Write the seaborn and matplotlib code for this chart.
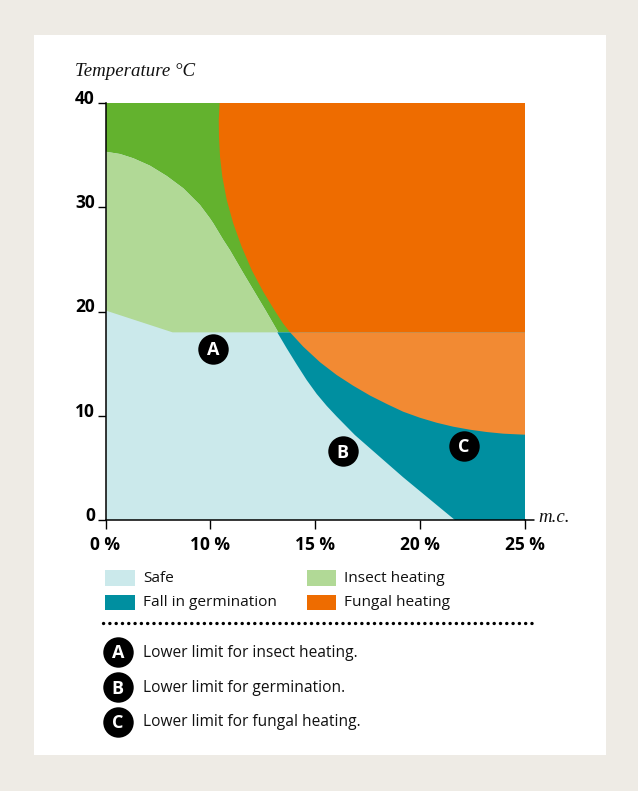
"""
Grain storage safety chart: temperature against moisture content.
"""
import matplotlib.pyplot as plt
from matplotlib.patches import Rectangle
from matplotlib.transforms import ScaledTranslation
import numpy as np
import pandas as pd
import seaborn as sns

# moisture content (%) and temperature (deg C) read along each limit
insect_mc = [0, 1.38, 2.65, 4.24, 5.84, 7.42, 9.01, 9.96, 10.14, 10.62, 10.93,
             11.57, 12.08, 12.65, 13.24, 14.2]
insect_t = [35.33, 35.11, 34.70, 33.99, 33.00, 31.82, 30.22, 28.94, 28.46,
            26.86, 25.90, 23.69, 21.97, 20.05, 18.0, 18.0]
insect_low_mc = [0, 6.4, 14.2]
insect_low_t = [20.1, 18.0, 18.0]
germ_mc = [13.19, 13.64, 14.11, 14.59, 15.07, 15.55, 16.02, 16.89, 17.61,
           19.19, 20.79, 21.66]
germ_t = [18.0, 16.47, 14.94, 13.43, 12.09, 10.94, 9.93, 8.15, 6.88,
          4.10, 1.44, 0.0]
fungal_mc = [10.44, 10.40, 10.41, 10.46, 10.57, 10.78, 11.09, 11.49, 11.97,
             12.52, 13.08, 13.46, 13.80, 14.43, 15.23, 16.02, 16.81, 17.61,
             18.41, 19.19, 19.99, 20.79, 21.58, 22.38, 23.17, 23.97, 25.0]
fungal_t = [40.0, 38.37, 36.77, 34.85, 32.93, 30.70, 28.46, 26.22, 23.98,
            21.90, 20.05, 18.87, 18.0, 16.62, 15.13, 13.91, 12.88, 11.94,
            11.13, 10.39, 9.81, 9.33, 8.95, 8.66, 8.44, 8.28, 8.18]
split_t = 18.0

badge_names = ["A", "B", "C"]
badge_mc = [10.14, 16.3, 22.1]
badge_t = [16.4, 6.6, 7.1]

x_ticks = [0, 10, 15, 20, 25]
x_tick_labels = ["0 %", "10 %", "15 %", "20 %", "25 %"]
y_ticks = [0, 10, 20, 30, 40]

legend_names = ["Safe", "Fall in germination", "Insect heating", "Fungal heating"]
limit_notes = ["Lower limit for insect heating.",
               "Lower limit for germination.",
               "Lower limit for fungal heating."]

SAFE = "#cbe9eb"
TEAL = "#008fa0"
PALE_GREEN = "#b1d996"
GREEN = "#63b22e"
ORANGE = "#ee6c00"
PALE_ORANGE = "#f28a33"
BACK = "#eeebe5"
BODY_FONT = "Open Sans"
BADGE_SIZE = 480


def forward(x):
    # the axis runs 0-10 over the same length as each later 5 % step
    return np.interp(x, x_ticks, [0, 1, 2, 3, 4])


def inverse(x):
    return np.interp(x, [0, 1, 2, 3, 4], x_ticks)


def draw_regions(ax):
    ax.axhspan(0, 40, color=SAFE, lw=0, zorder=1)

    # dark green above the insect limit, pale green between the two limits
    ax.fill(insect_mc + [14.2, 0], insect_t + [40, 40], color=GREEN, lw=0,
            zorder=2)
    ax.fill(insect_mc + insect_low_mc[::-1], insect_t + insect_low_t[::-1],
            color=PALE_GREEN, lw=0, zorder=3)

    # teal to the right of the germination limit
    ax.fill(germ_mc + [25, 25], germ_t + [0, 18], color=TEAL, lw=0, zorder=4)

    # fungal heating, paler below the split
    cut = fungal_t.index(split_t) + 1
    ax.fill(fungal_mc[:cut] + [25, 25], fungal_t[:cut] + [18, 40], color=ORANGE,
            lw=0, zorder=5)
    ax.fill(fungal_mc[cut - 1:] + [25], fungal_t[cut - 1:] + [18],
            color=PALE_ORANGE, lw=0, zorder=5)


def style_axes(ax):
    sns.despine(ax=ax)
    ax.spines["left"].set_linewidth(1.1)
    ax.spines["bottom"].set_linewidth(1.1)
    ax.spines["left"].set_color("black")
    ax.spines["bottom"].set_color("black")
    ax.spines["left"].set_zorder(9)
    ax.spines["bottom"].set_zorder(9)
    ax.set_xscale("function", functions=(forward, inverse))
    ax.set_xlim(0, 25)
    ax.set_ylim(0, 40)
    ax.set_xticks(x_ticks)
    ax.set_xticklabels(x_tick_labels, fontfamily=BODY_FONT, fontweight="bold",
                       fontsize=12.5, color="black")
    ax.set_yticks(y_ticks)
    ax.set_yticklabels(y_ticks, fontfamily=BODY_FONT, fontweight="bold",
                       fontsize=12.5, color="black")
    ax.minorticks_off()
    ax.tick_params(axis="x", bottom=True, length=6.2, width=1, pad=5,
                   color="black")
    ax.tick_params(axis="y", left=True, length=5.8, width=1, pad=1.8,
                   color="black")
    ax.set_xlabel("")
    ax.set_ylabel("")
    lift = ScaledTranslation(0, 6 / 100, ax.figure.dpi_scale_trans)
    for label in ax.get_yticklabels():
        label.set_transform(label.get_transform() + lift)


def draw_key(fig):
    # overlay in pixel units for the panel, legend and notes
    key = fig.add_axes([0, 0, 1, 1], zorder=-1)
    key.set_xlim(0, 638)
    key.set_ylim(791, 0)
    key.axis("off")
    key.add_patch(Rectangle((34, 35), 572, 720, color="white", lw=0))

    top = fig.add_axes([0, 0, 1, 1], zorder=5)
    top.axis("off")
    top.patch.set_alpha(0)

    swatches = [(105, 570, 30, 16, SAFE), (105, 595, 30, 15, TEAL),
                (307, 570, 29, 16, PALE_GREEN), (307, 595, 29, 15, ORANGE)]
    spots = [(143, 578), (143, 602), (344, 578), (344, 602)]
    for box, spot, name in zip(swatches, spots, legend_names):
        top.add_patch(Rectangle(box[:2], box[2], box[3], color=box[4], lw=0))
        top.text(spot[0], spot[1], name, family=BODY_FONT, fontsize=11.1,
                 va="center", color="#111111")

    top.plot([103, 535], [623, 623], color="black", lw=2.4,
             linestyle=(0, (0.05, 1.84)), dash_capstyle="round")

    rows = [652, 687, 721.5]
    sns.scatterplot(x=[117.7] * 3, y=rows, s=BADGE_SIZE, color="black",
                    linewidth=0, ax=top, legend=False, clip_on=False)
    for y, name, note in zip(rows, badge_names, limit_notes):
        top.text(117.7, y + 1.5, name, color="white", family=BODY_FONT,
                 fontweight="bold", fontsize=13, ha="center", va="center")
        top.text(143, y + 1, note, family=BODY_FONT, fontsize=11.2, va="center",
                 color="#111111")
    top.text(75, 71, "Temperature °C", family="Liberation Serif",
             style="italic", fontsize=13.6, va="center", color="#111111")
    top.text(538, 517.5, "m.c.", family="Liberation Serif", style="italic",
             fontsize=13.6, va="center", color="#111111")
    top.plot([525, 534], [520, 520], color="black", lw=1.1)
    top.set_xlim(0, 638)
    top.set_ylim(791, 0)
    top.set_xlabel("")
    top.set_ylabel("")


def main():
    sns.set_theme(style="white")
    fig = plt.figure(figsize=(6.38, 7.91), dpi=100, facecolor=BACK)
    ax = fig.add_axes([105.5 / 638, 1 - 520 / 791, 419.5 / 638, 417 / 791])
    ax.patch.set_alpha(0)
    draw_regions(ax)
    style_axes(ax)

    badges = pd.DataFrame({"mc": badge_mc, "t": badge_t, "name": badge_names})
    sns.scatterplot(data=badges, x="mc", y="t", s=BADGE_SIZE, color="black",
                    linewidth=0, ax=ax, zorder=8, legend=False)
    for row in badges.itertuples():
        ax.annotate(row.name, (row.mc, row.t), xytext=(0, -1),
                    textcoords="offset points", color="white", family=BODY_FONT,
                    fontweight="bold", fontsize=13, ha="center", va="center",
                    zorder=9)
    ax.set_xlabel("")
    ax.set_ylabel("")
    draw_key(fig)
    fig.savefig("out.png", dpi=100, facecolor=BACK)


if __name__ == "__main__":
    main()
